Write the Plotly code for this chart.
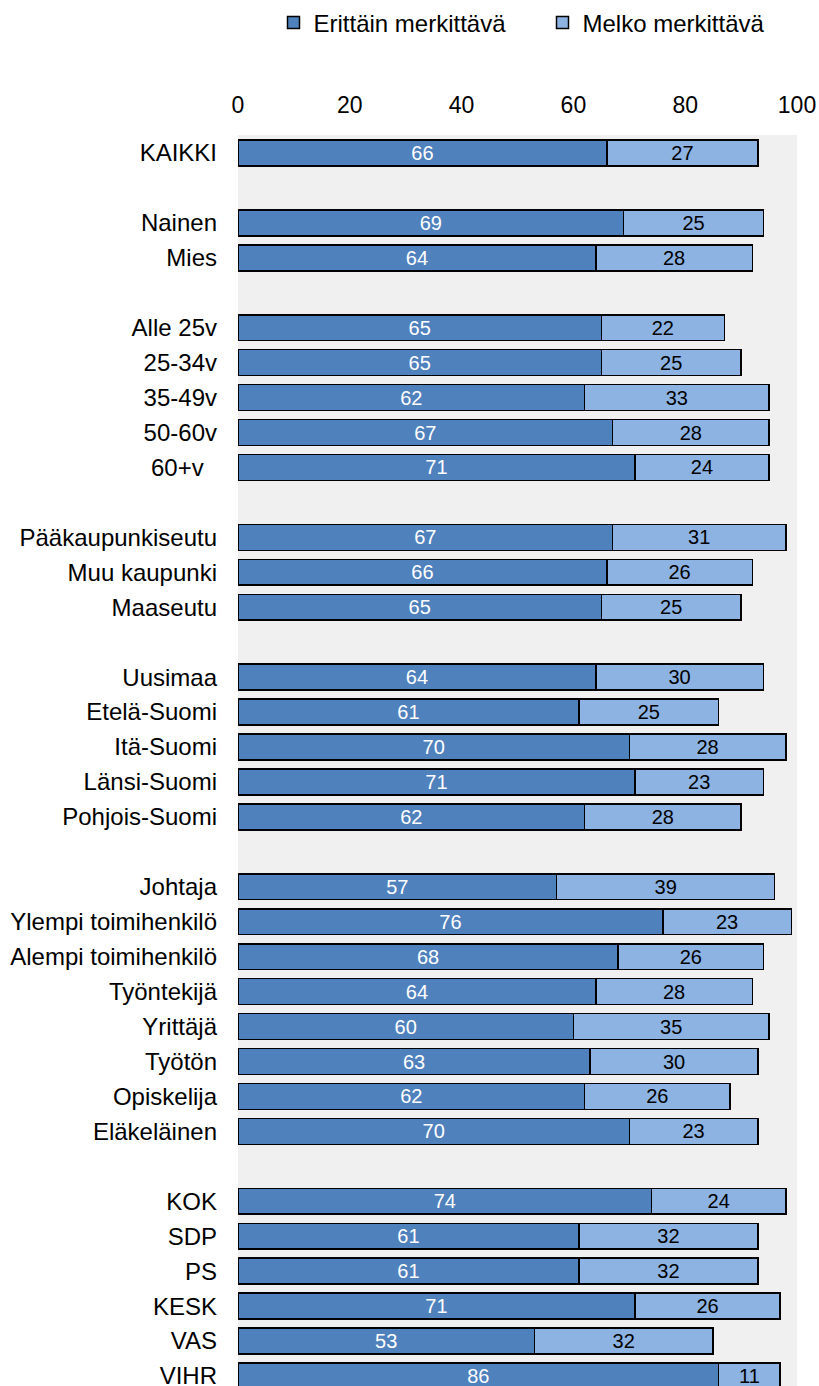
import plotly.graph_objects as go

# Row labels; "" marks an empty separator row between groups
categories = [
    "KAIKKI", "",
    "Nainen", "Mies", "",
    "Alle 25v", "25-34v", "35-49v", "50-60v", "60+v\u00a0\u00a0", "",
    "Pääkaupunkiseutu", "Muu kaupunki", "Maaseutu", "",
    "Uusimaa", "Etelä-Suomi", "Itä-Suomi", "Länsi-Suomi", "Pohjois-Suomi", "",
    "Johtaja", "Ylempi toimihenkilö", "Alempi toimihenkilö", "Työntekijä",
    "Yrittäjä", "Työtön", "Opiskelija", "Eläkeläinen", "",
    "KOK", "SDP", "PS", "KESK", "VAS", "VIHR",
]

erittain = [66, None, 69, 64, None, 65, 65, 62, 67, 71, None, 67, 66, 65, None,
            64, 61, 70, 71, 62, None, 57, 76, 68, 64, 60, 63, 62, 70, None,
            74, 61, 61, 71, 53, 86]
melko = [27, None, 25, 28, None, 22, 25, 33, 28, 24, None, 31, 26, 25, None,
         30, 25, 28, 23, 28, None, 39, 23, 26, 28, 35, 30, 26, 23, None,
         24, 32, 32, 26, 32, 11]

series_names = ["Erittäin merkittävä", "Melko merkittävä"]
x_ticks = [0, 20, 40, 60, 80, 100]

rows = [i for i, c in enumerate(categories) if c != ""]
labels = [categories[i] for i in rows]
v1 = [erittain[i] for i in rows]
v2 = [melko[i] for i in rows]

FONT = "Arial, Liberation Sans, sans-serif"
DARK = "#4F81BD"
LIGHT = "#8DB3E2"

W, H = 819, 1386

fig = go.Figure()
fig.add_trace(go.Bar(
    y=rows, x=v1, orientation="h", name=series_names[0],
    marker=dict(color=DARK, line=dict(color="#000000", width=1.5)),
    width=0.74, text=v1, texttemplate="%{x:.0f}",
    textposition="inside", insidetextanchor="middle", textangle=0,
    insidetextfont=dict(family=FONT, size=20, color="#FFFFFF"),
    constraintext="none", hoverinfo="skip",
))
fig.add_trace(go.Bar(
    y=rows, x=v2, orientation="h", name=series_names[1],
    marker=dict(color=LIGHT, line=dict(color="#000000", width=1.5)),
    width=0.74, text=v2, texttemplate="%{x:.0f}",
    textposition="inside", insidetextanchor="middle", textangle=0,
    insidetextfont=dict(family=FONT, size=20, color="#000000"),
    constraintext="none", hoverinfo="skip",
))

n_last = len(categories) - 1
fig.update_layout(
    width=W, height=H,
    barmode="stack",
    paper_bgcolor="#FFFFFF",
    plot_bgcolor="#F0F0F0",
    margin=dict(l=238, r=22, t=135, b=0, pad=0, autoexpand=False),
    font=dict(family=FONT, size=24, color="#000000"),
    showlegend=True,
    legend=dict(
        orientation="h", xref="container", yref="container",
        x=273.5 / W, y=1 - 23 / H, xanchor="left", yanchor="middle",
        font=dict(family=FONT, size=24, color="#000000"),
        entrywidth=224, entrywidthmode="pixels",
        itemwidth=30, bgcolor="rgba(0,0,0,0)",
        traceorder="normal",
    ),
    xaxis=dict(
        side="top", range=[0, 100], tickvals=x_ticks,
        ticktext=[str(t) for t in x_ticks],
        showgrid=False, zeroline=False, showline=False, ticks="",
        tickfont=dict(family=FONT, size=23, color="#000000"),
        ticklabelstandoff=16, ticklabeloverflow="allow", fixedrange=True,
    ),
    yaxis=dict(
        range=[n_last + 10 / 34.94, -18 / 34.94],
        tickvals=rows, ticktext=labels,
        showgrid=False, zeroline=False, showline=False, ticks="",
        tickfont=dict(family=FONT, size=24, color="#000000"),
        ticklabelstandoff=20, ticklabeloverflow="allow", fixedrange=True,
    ),
)

fig.write_html(
    "out.html",
    config={"displayModeBar": False},
    post_script=(
        "document.body.style.margin='0';"
        "document.body.style.overflow='hidden';"
        "document.documentElement.style.overflow='hidden';"
    ),
)
